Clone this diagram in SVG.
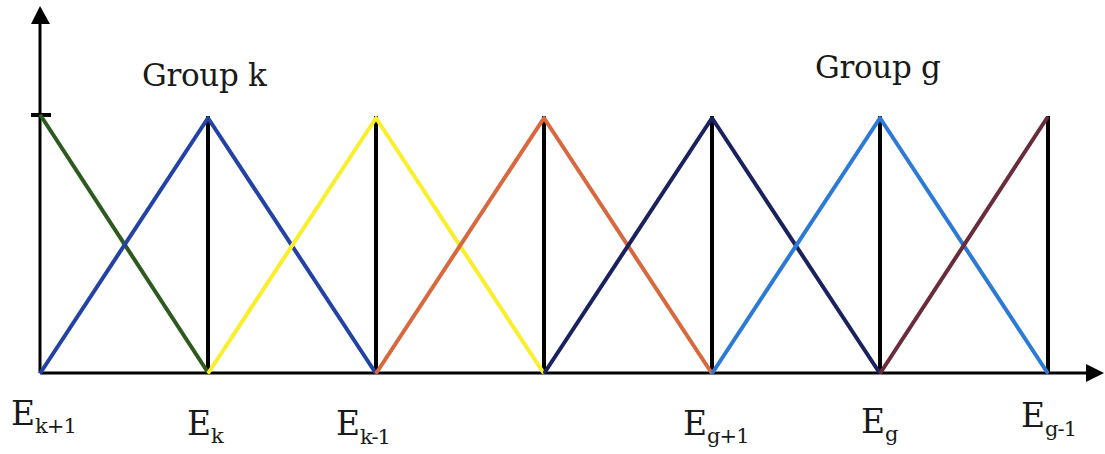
<svg xmlns="http://www.w3.org/2000/svg" width="1105" height="454" viewBox="0 0 1105 454">
<style>
.ax{stroke:#000;stroke-width:3;fill:none}
.v{stroke:#000;stroke-width:4;fill:none}
.c{stroke-width:4;fill:none;stroke-linejoin:round;stroke-linecap:round}
.t{font-family:'DejaVu Serif',serif;fill:#1a1a1a}
.lab{font-size:31px;letter-spacing:-0.3px}
.e{font-size:33px}
.s{font-size:21px;letter-spacing:-1px}
</style>
<rect width="1105" height="454" fill="#fff"/>
<g id="axes">
<line class="ax" x1="40" y1="373" x2="40" y2="22"/>
<polygon points="40,6 31,24 50,24" fill="#000"/>
<line class="ax" x1="40" y1="373" x2="1088" y2="373"/>
<polygon points="1104,373 1086,364 1086,382" fill="#000"/>
<line x1="31" y1="115" x2="51" y2="115" stroke="#000" stroke-width="4"/>
</g>
<g id="connectors">
<line class="v" x1="208" y1="116" x2="208" y2="373"/>
<line class="v" x1="376" y1="116" x2="376" y2="373"/>
<line class="v" x1="544" y1="116" x2="544" y2="373"/>
<line class="v" x1="712" y1="116" x2="712" y2="373"/>
<line class="v" x1="880" y1="116" x2="880" y2="373"/>
<line class="v" x1="1048" y1="116" x2="1048" y2="373"/>
<polyline class="c" stroke="#2f5a1f" points="41,116 207,371"/>
<polyline class="c" stroke="#2342a6" points="41,372 208,118 375,372"/>
<polyline class="c" stroke="#fbee2a" points="209,372 376,118 543,372"/>
<polyline class="c" stroke="#d9683e" points="377,372 544,118 711,372"/>
<polyline class="c" stroke="#1b2160" points="545,372 712,118 879,372"/>
<polyline class="c" stroke="#2d7ad6" points="713,372 880,118 1047,372"/>
<polyline class="c" stroke="#6a2b3a" points="881,372 1047,118"/>
</g>
<g class="t">
<g id="group-k"><text class="lab" x="142" y="86">Group k</text></g>
<g id="group-g"><text class="lab" x="815" y="78">Group g</text></g>
<g id="e-k1"><text class="e" x="11" y="425">E<tspan class="s" dy="8">k+1</tspan></text></g>
<g id="e-k"><text class="e" x="187" y="435">E<tspan class="s" dy="8">k</tspan></text></g>
<g id="e-km1"><text class="e" x="336" y="435">E<tspan class="s" dy="9">k-1</tspan></text></g>
<g id="e-g1"><text class="e" x="683" y="435">E<tspan class="s" dy="8">g+1</tspan></text></g>
<g id="e-g"><text class="e" x="861" y="433">E<tspan class="s" dy="8">g</tspan></text></g>
<g id="e-gm1"><text class="e" x="1021" y="427">E<tspan class="s" dy="9">g-1</tspan></text></g>
</g>
</svg>
